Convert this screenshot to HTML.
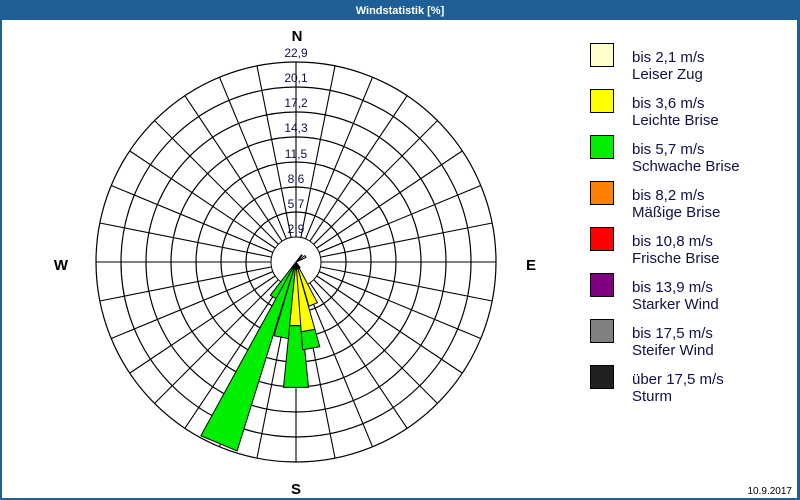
<!DOCTYPE html>
<html><head><meta charset="utf-8"><style>
body{margin:0;background:#fff;}
#w{position:relative;width:800px;height:500px;overflow:hidden;font-family:"Liberation Sans",sans-serif;}
</style></head><body><div id="w">
<svg id="s" width="800" height="500" xmlns="http://www.w3.org/2000/svg" style="position:absolute;left:0;top:0">
<rect x="0" y="0" width="800" height="500" fill="#fff"/>
<rect x="0" y="0" width="800" height="20" fill="#1d5f96"/>
<rect x="0" y="0" width="2" height="500" fill="#1d5f96"/>
<rect x="797" y="0" width="3" height="500" fill="#1d5f96"/>
<rect x="0" y="498" width="800" height="2" fill="#1d5f96"/>
<text x="400" y="14" fill="#fff" font-size="11" font-weight="bold" text-anchor="middle" font-family="Liberation Sans, sans-serif">Windstatistik [%]</text>
<g id="grid"></g>
<g id="wedges"></g>
<g font-family="Liberation Sans, sans-serif" font-size="12" fill="#10104a" text-anchor="middle">
<text x="296" y="57">22,9</text><text x="296" y="82">20,1</text><text x="296" y="107">17,2</text><text x="296" y="132">14,3</text>
<text x="296" y="158">11,5</text><text x="296" y="183">8,6</text><text x="296" y="208">5,7</text><text x="296" y="233">2,9</text>
</g>
<g font-family="Liberation Sans, sans-serif" font-size="15" font-weight="bold" fill="#000" text-anchor="middle">
<text x="297" y="41">N</text><text x="296" y="494">S</text><text x="61" y="270">W</text><text x="531" y="270">E</text>
</g>
<g id="leg" font-family="Liberation Sans, sans-serif" font-size="15" fill="#10104a"></g>
<text x="792" y="494" font-family="Liberation Sans, sans-serif" font-size="10" fill="#000" text-anchor="end">10.9.2017</text>
</svg>
<script>
var cx=296,cy=262,R0=25,R=200,NS="http://www.w3.org/2000/svg";
function el(p,t,a){var e=document.createElementNS(NS,t);for(var k in a)e.setAttribute(k,a[k]);p.appendChild(e);return e;}
var g=document.getElementById('grid');
for(var k=2;k<=8;k++)el(g,'circle',{cx:cx,cy:cy,r:k*25,fill:'none',stroke:'#000','stroke-width':1.2});
el(g,'circle',{cx:cx,cy:cy,r:R0,fill:'none',stroke:'#000','stroke-width':1});
for(var a=0;a<360;a+=11.25){var t=a*Math.PI/180;
el(g,'line',{x1:cx+R0*Math.sin(t),y1:cy-R0*Math.cos(t),x2:cx+R*Math.sin(t),y2:cy-R*Math.cos(t),stroke:'#000','stroke-width':1.1});}
var W=document.getElementById('wedges');
function pt(r,a){var t=a*Math.PI/180;return (cx+r*Math.sin(t)).toFixed(1)+','+(cy-r*Math.cos(t)).toFixed(1);}
function wedge(a,r0,r1,c,hw){hw=hw||5.7;
el(W,'polygon',{points:[pt(r0,a-hw),pt(r1,a-hw),pt(r1,a+hw),pt(r0,a+hw)].join(' '),fill:c,stroke:'#000','stroke-width':1});}
var Y='#ffff00',G='#00ee00',K='#111';
wedge(212,0,42,G);
wedge(203,0,198,G);
wedge(191,0,77,G);
wedge(180,0,64,Y);wedge(180,64,126,G);
wedge(170,0,70,Y);wedge(170,70,88,G);
wedge(158,0,46,Y);
wedge(60,0,11,'#ffffcc');
for(var a of [150,160,170,180,190,200,210])wedge(a,0,7,K);
wedge(40,0,9,K,3);
var L=document.getElementById('leg');
var items=[['#ffffcc','bis 2,1 m/s','Leiser Zug'],['#ffff00','bis 3,6 m/s','Leichte Brise'],['#00ee00','bis 5,7 m/s','Schwache Brise'],['#ff8000','bis 8,2 m/s','Mäßige Brise'],['#ff0000','bis 10,8 m/s','Frische Brise'],['#800080','bis 13,9 m/s','Starker Wind'],['#808080','bis 17,5 m/s','Steifer Wind'],['#202020','über 17,5 m/s','Sturm']];
items.forEach(function(it,i){var y=43+i*46;
el(L,'rect',{x:590.5,y:y+.5,width:23,height:23,fill:it[0],stroke:'#000','stroke-width':1});
var t1=el(L,'text',{x:632,y:y+19});t1.textContent=it[1];
var t2=el(L,'text',{x:632,y:y+36});t2.textContent=it[2];});
</script>
</div></body></html>
